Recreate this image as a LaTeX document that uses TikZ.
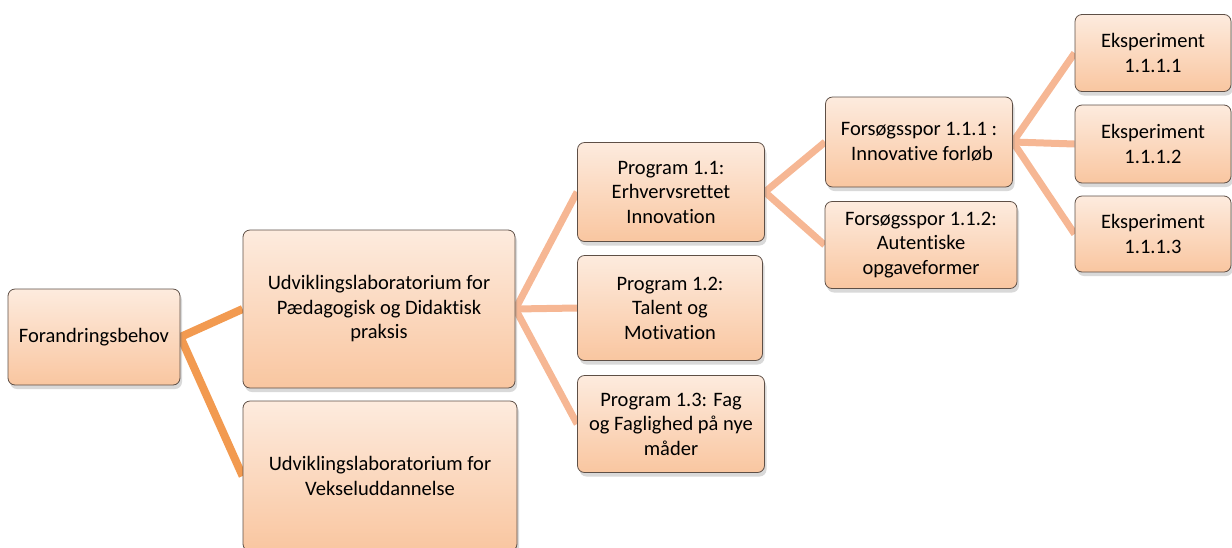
\documentclass[tikz,border=0pt]{standalone}
\usepackage{fontspec}
\setmainfont{Carlito}[Ligatures=NoCommon]
\usetikzlibrary{shadows}
\usetikzlibrary{backgrounds}
\definecolor{boxtop}{HTML}{FDEBDE}
\definecolor{boxbottom}{HTML}{F9C6A0}
\definecolor{boxline}{HTML}{5E4F46}
\definecolor{linkdark}{HTML}{F29A50}
\definecolor{linklight}{HTML}{F6B794}
\tikzset{
  box/.style = {rectangle, rounded corners=7pt, draw=boxline, line width=0.8pt,
    top color=boxtop, bottom color=boxbottom, align=center, inner sep=0pt,
    font=\fontsize{20.5}{24.5}\selectfont,
    drop shadow={opacity=0.3, shadow xshift=2pt, shadow yshift=-4pt}},
  link/.style = {line width=7pt, linklight},
  mainlink/.style = {line width=8pt, linkdark},
}

\begin{document}
\begin{tikzpicture}[x=1pt, y=-1pt]
    \useasboundingbox (0,0) rectangle (1232,547);
    \node [box, minimum width=172pt, minimum height=96pt] (need) at (94,337) {Forandringsbehov};
    \node [box, minimum width=272pt, minimum height=158pt] (lab1) at (379,309) {Udviklingslaboratorium for\\ Pædagogisk og Didaktisk\\ praksis};
    \node [box, minimum width=274pt, minimum height=150pt] (lab2) at (380,476) {Udviklingslaboratorium for\\ Vekseluddannelse};
    \node [box, minimum width=187pt, minimum height=99pt] (prog1) at (671,192) {Program 1.1:\\ Erhvervsrettet\\ Innovation};
    \node [box, minimum width=185pt, minimum height=105pt] (prog2) at (670,308) {Program 1.2:\\ Talent og\\ Motivation};
    \node [box, minimum width=187pt, minimum height=97pt] (prog3) at (671,424) {Program 1.3: Fag\\ og Faglighed på nye\\ måder};
    \node [box, minimum width=187pt, minimum height=90pt] (spor1) at (919,142) {Forsøgsspor 1.1.1 :\\ \hspace{6pt}Innovative forløb};
    \node [box, minimum width=192pt, minimum height=87pt] (spor2) at (921,245) {Forsøgsspor 1.1.2:\\ Autentiske\\ opgaveformer};
    \node [box, minimum width=156pt, minimum height=77pt] (exp1) at (1153,53) {Eksperiment\hspace{12pt}\\ 1.1.1.1};
    \node [box, minimum width=156pt, minimum height=78pt] (exp2) at (1153,144) {Eksperiment\hspace{12pt}\\ 1.1.1.2};
    \node [box, minimum width=156pt, minimum height=76pt] (exp3) at (1153,234) {Eksperiment\hspace{12pt}\\ 1.1.1.3};
    \begin{scope}[on background layer]
      \draw [mainlink] (lab1.west) -- (need.east) -- (lab2.west);
      \draw [link] (prog1.west) -- (lab1.east) -- (prog3.west);
      \draw [link] (lab1.east) -- (prog2.west);
      \draw [link] (spor1.west) -- (prog1.east) -- (spor2.west);
      \draw [link] (exp1.west) -- (spor1.east) -- (exp3.west);
      \draw [link] (spor1.east) -- (exp2.west);
    \end{scope}
\end{tikzpicture}
\end{document}
